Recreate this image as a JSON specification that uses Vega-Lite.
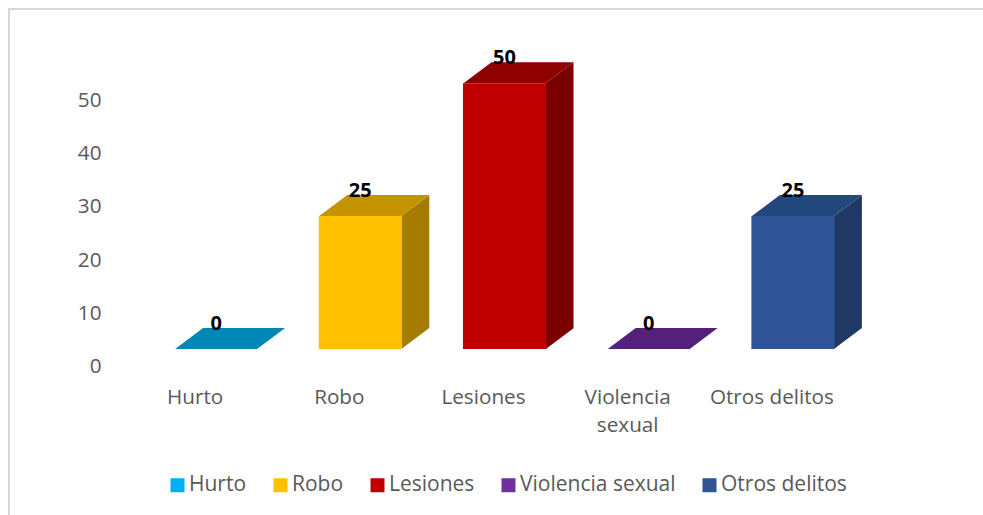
{
"$schema":"https://vega.github.io/schema/vega-lite/v6.json",
"width":976,"height":508,
"autosize":{"type":"none"},
"padding":{"left":9,"top":9,"right":0,"bottom":0},
"background":"#ffffff",
"config":{"view":{"stroke":"#d9d9d9","strokeWidth":2},"font":"Open Sans"},
"data":{"values":[
{"delito":"Hurto","casos":0},
{"delito":"Robo","casos":25},
{"delito":"Lesiones","casos":50},
{"delito":"Violencia sexual","casos":0},
{"delito":"Otros delitos","casos":25}]},
"encoding":{
"x":{"field":"delito","type":"nominal","sort":null,"title":null,
"scale":{"range":[135,856],"paddingInner":0.424,"paddingOuter":0.212},
"axis":{"domain":false,"ticks":false,"labelAngle":0,"labelFontSize":20.7,"labelColor":"#595959","labelOffset":-21,"offset":-130,"labelPadding":0,"labelLineHeight":28,"labelBaseline":"top","labelFont":"Open Sans","labelExpr":"datum.label=='Violencia sexual'?['Violencia','sexual']:datum.label"}},
"y":{"field":"casos","type":"quantitative","title":null,
"scale":{"domain":[0,60],"range":[358,39],"nice":false,"zero":true},
"axis":{"domain":false,"ticks":false,"grid":false,"values":[0,10,20,30,40,50],"labelFontSize":20.7,"labelColor":"#595959","labelPadding":0,"labelOffset":-0.6,"offset":-92,"labelFont":"Open Sans"}}
},
"layer":[
{"mark":{"type":"point","filled":true,"opacity":1,"size":4,"strokeWidth":0,"yOffset":-18},
"encoding":{
"color":{"field":"delito","type":"nominal","sort":null,"legend":null,"scale":{"domain":["Hurto","Robo","Lesiones","Violencia sexual","Otros delitos"],"range":["#007da8","#a67c00","#7a0000","#4a1c6b","#1f3864"]}},
"shape":{"field":"delito","type":"nominal","sort":null,"legend":null,"scale":{"domain":["Hurto","Robo","Lesiones","Violencia sexual","Otros delitos"],"range":["M41 0L69 -21L69 -21L41 0Z","M41 0L69 -21L69 112L41 133Z","M41 0L69 -21L69 245L41 266Z","M41 0L69 -21L69 -21L41 0Z","M41 0L69 -21L69 112L41 133Z"]}}}},
{"mark":{"type":"point","filled":true,"opacity":1,"size":4,"strokeWidth":0,"yOffset":-18,"shape":"M-41 0L41 0L69 -21L-13 -21Z"},
"encoding":{
"color":{"field":"delito","type":"nominal","sort":null,"legend":null,"scale":{"domain":["Hurto","Robo","Lesiones","Violencia sexual","Otros delitos"],"range":["#0087b5","#c49400","#8f0000","#54217a","#234880"]}}}},
{"mark":{"type":"bar","yOffset":-18,"y2Offset":-18},
"encoding":{
"color":{"field":"delito","type":"nominal","sort":null,"title":null,
"scale":{"domain":["Hurto","Robo","Lesiones","Violencia sexual","Otros delitos"],"range":["#00b0f0","#ffc000","#c00000","#7030a0","#2f5597"]},
"legend":{"orient":"none","legendX":158,"legendY":465.5,"columns":5,"direction":"horizontal","symbolType":"square","symbolSize":196,"symbolStrokeWidth":0,"labelFontSize":21,"labelColor":"#595959","labelOffset":1,"columnPadding":23,"padding":0,"labelFont":"Open Sans","labelLimit":300}}}},
{"mark":{"type":"text","fontSize":20,"fontWeight":"bold","color":"#000000","baseline":"middle","yOffset":-43,"font":"Open Sans"},
"encoding":{"text":{"field":"casos","type":"quantitative"}}}
],
"resolve":{"scale":{"color":"independent"}}
}
